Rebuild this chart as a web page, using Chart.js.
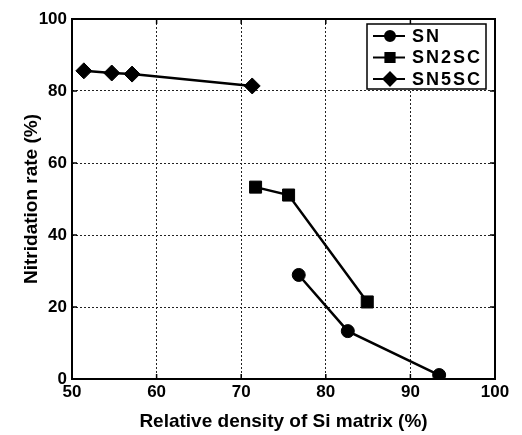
<!DOCTYPE html>
<html>
<head>
<meta charset="utf-8">
<script src="https://cdn.jsdelivr.net/npm/chart.js@4/dist/chart.umd.min.js"></script>
<style>
  html, body { margin: 0; padding: 0; background: #fff; }
  #wrap { width: 522px; height: 435px; }
</style>
</head>
<body>
<div id="wrap"><canvas id="myChart" width="522" height="435"></canvas></div>
<script>
// values
const snX = [76.8, 82.6, 93.4];
const snY = [28.9, 13.3, 1.1];
const sn2scX = [71.7, 75.6, 84.9];
const sn2scY = [53.3, 51.1, 21.4];
const sn5scX = [51.4, 54.7, 57.1, 71.3];
const sn5scY = [85.6, 85.0, 84.7, 81.4];

const xTicks = [50, 60, 70, 80, 90, 100];
const yTicks = [0, 20, 40, 60, 80, 100];

function pts(xs, ys) {
  return xs.map((x, i) => ({ x: x, y: ys[i] }));
}

const FONT = '"Liberation Sans", Arial, sans-serif';

// legend box drawn inside the plot, top right
const boxLegend = {
  id: 'boxLegend',
  afterDraw(chart) {
    const ctx = chart.ctx;
    const x0 = 367, y0 = 24, w = 119, h = 65;
    ctx.save();
    ctx.fillStyle = '#fff';
    ctx.fillRect(x0, y0, w, h);
    ctx.strokeStyle = '#000';
    ctx.lineWidth = 1.5;
    ctx.strokeRect(x0, y0, w, h);
    ctx.font = 'bold 18px ' + FONT;
    ctx.letterSpacing = '2px';
    ctx.textBaseline = 'middle';
    const sizes = [5, 6.5, 6.5];
    chart.data.datasets.forEach((ds, i) => {
      const cy = y0 + 12 + i * 21.5;
      ctx.strokeStyle = '#000';
      ctx.lineWidth = 2;
      ctx.beginPath();
      ctx.moveTo(x0 + 6, cy);
      ctx.lineTo(x0 + 38, cy);
      ctx.stroke();
      ctx.fillStyle = '#000';
      Chart.helpers.drawPoint(ctx, { pointStyle: ds.pointStyle, radius: sizes[i], borderWidth: 1 }, x0 + 23, cy);
      ctx.fillStyle = '#000';
      ctx.fillText(ds.label, x0 + 45, cy + 1);
    });
    ctx.restore();
  }
};

// frame plus small inward ticks
const frame = {
  id: 'frame',
  afterDatasetsDraw(chart) {
    const a = chart.chartArea, ctx = chart.ctx;
    const xs = chart.scales.x, ys = chart.scales.y;
    ctx.save();
    ctx.strokeStyle = '#000';
    ctx.lineWidth = 2;
    ctx.strokeRect(a.left, a.top, a.right - a.left, a.bottom - a.top);
    ctx.lineWidth = 1.5;
    ctx.beginPath();
    xTicks.forEach(v => {
      const px = xs.getPixelForValue(v);
      ctx.moveTo(px, a.bottom); ctx.lineTo(px, a.bottom - 5);
      ctx.moveTo(px, a.top); ctx.lineTo(px, a.top + 5);
    });
    yTicks.forEach(v => {
      const py = ys.getPixelForValue(v);
      ctx.moveTo(a.left, py); ctx.lineTo(a.left + 5, py);
      ctx.moveTo(a.right, py); ctx.lineTo(a.right - 5, py);
    });
    ctx.stroke();
    ctx.restore();
  }
};

const common = {
  borderColor: '#000',
  backgroundColor: '#000',
  borderWidth: 2.5,
  pointBorderColor: '#000',
  pointBackgroundColor: '#000',
  pointBorderWidth: 1,
  showLine: true,
  tension: 0
};

new Chart(document.getElementById('myChart').getContext('2d'), {
  type: 'scatter',
  data: {
    datasets: [
      Object.assign({ label: 'SN', data: pts(snX, snY), pointStyle: 'circle', pointRadius: 6.5 }, common),
      Object.assign({ label: 'SN2SC', data: pts(sn2scX, sn2scY), pointStyle: 'rect', pointRadius: 8.5 }, common),
      Object.assign({ label: 'SN5SC', data: pts(sn5scX, sn5scY), pointStyle: 'rectRot', pointRadius: 8 }, common)
    ]
  },
  options: {
    responsive: false,
    animation: false,
    layout: { padding: { top: 19, right: 27, bottom: 0, left: 0 } },
    plugins: { legend: { display: false }, tooltip: { enabled: false } },
    scales: {
      x: {
        type: 'linear',
        min: 50, max: 100,
        afterBuildTicks(axis) { axis.ticks = xTicks.map(v => ({ value: v })); },
        afterFit(axis) { axis.height = 56; },
        border: { display: false, dash: [2, 2] },
        grid: { color: '#222', lineWidth: 1, drawTicks: false },
        ticks: { color: '#000', font: { size: 17, weight: 'bold', family: FONT }, padding: 3, maxRotation: 0 },
        title: { display: true, text: 'Relative density of Si matrix (%)', color: '#000', font: { size: 19, weight: 'bold', family: FONT }, padding: { top: 0, bottom: 2 } }
      },
      y: {
        min: 0, max: 100,
        afterBuildTicks(axis) { axis.ticks = yTicks.map(v => ({ value: v })); },
        afterFit(axis) { axis.width = 72; },
        border: { display: false, dash: [2, 2] },
        grid: { color: '#222', lineWidth: 1, drawTicks: false },
        ticks: { color: '#000', font: { size: 17, weight: 'bold', family: FONT }, padding: 5 },
        title: { display: true, text: 'Nitridation rate (%)', color: '#000', font: { size: 19, weight: 'bold', family: FONT }, padding: { top: 20, bottom: 0 } }
      }
    }
  },
  plugins: [frame, boxLegend]
});
</script>
</body>
</html>
